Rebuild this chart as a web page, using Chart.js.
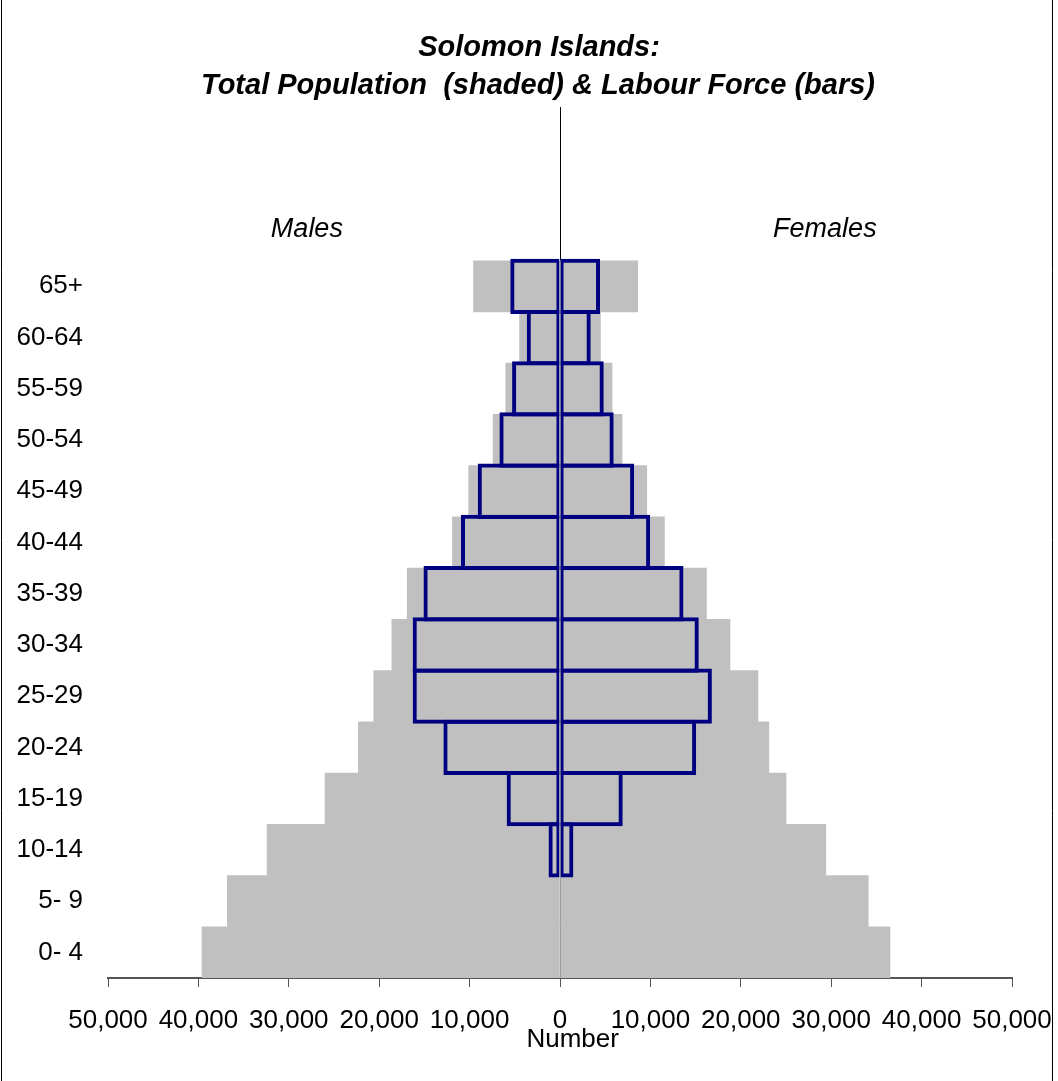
<!DOCTYPE html>
<html>
<head>
<meta charset="utf-8">
<script src="https://cdn.jsdelivr.net/npm/chart.js@4.4.1/dist/chart.umd.min.js"></script>
<style>
  html, body { margin: 0; padding: 0; background: #fff; }
  canvas { display: block; }
</style>
</head>
<body>
<canvas id="pyramid" width="1058" height="1081"></canvas>
<script>
// age groups, top to bottom
const ageGroups = ['65+', '60-64', '55-59', '50-54', '45-49', '40-44', '35-39',
                   '30-34', '25-29', '20-24', '15-19', '10-14', '5- 9', '0- 4'];
// three empty rows above the oldest group (room for Males / Females)
const yLabels = ['', '', ''].concat(ageGroups);

// total population (shaded)
const maleTotal   = [9570, 4470, 6000, 7400, 10100, 11900, 16900, 18600, 20600, 22300, 26000, 32400, 36800, 39600];
const femaleTotal = [8600, 4470, 5760, 6870, 9600, 11550, 16200, 18800, 21900, 23100, 25000, 29400, 34100, 36500];

// labour force (bars)
const maleLabour   = [5500, 3680, 5300, 6700, 9100, 10950, 15100, 16300, 16300, 12900, 5900, 1270, null, null];
const femaleLabour = [4430, 3400, 4840, 5940, 8200, 9970, 13660, 15350, 16800, 15060, 6940, 1480, null, null];

const xTicks = [-50000, -40000, -30000, -20000, -10000, 0, 10000, 20000, 30000, 40000, 50000];

const titleLines = ['Solomon Islands:', 'Total Population  (shaded) & Labour Force (bars)'];

const FONT = "'Liberation Sans', Arial, sans-serif";
const GREY = '#c0c0c0';
const NAVY = '#000080';

// left-side values are drawn as negatives
const toLeft = arr => [null, null, null].concat(arr.map(v => v == null ? null : -v));
const toRight = arr => [null, null, null].concat(arr);

// free text of the original: title, sex captions, axis caption, frame lines
const captions = {
    id: 'captions',
    afterDraw(chart) {
        const { ctx, scales } = chart;
        const x = scales.x, y = scales.y;
        ctx.save();
        ctx.fillStyle = '#000';
        ctx.textAlign = 'center';
        ctx.textBaseline = 'middle';

        ctx.font = 'italic bold 29px ' + FONT;
        ctx.fillText(titleLines[0], 539, 48);
        ctx.fillText(titleLines[1], 538, 86);

        ctx.font = 'italic 27px ' + FONT;
        const rowY = y.getPixelForValue(2) - 6;
        ctx.fillText('Males', x.getPixelForValue(-28000), rowY);
        ctx.fillText('Females', x.getPixelForValue(29300), rowY);

        ctx.font = '26px ' + FONT;
        ctx.fillText('Number', x.getPixelForValue(1400), 1040);

        // frame edges
        ctx.strokeStyle = '#000';
        ctx.lineWidth = 1;
        ctx.beginPath();
        ctx.moveTo(1.5, 0); ctx.lineTo(1.5, chart.height);
        ctx.moveTo(1052.5, 0); ctx.lineTo(1052.5, chart.height);
        ctx.stroke();
        ctx.restore();
    }
};

new Chart(document.getElementById('pyramid'), {
    type: 'bar',
    data: {
        labels: yLabels,
        datasets: [
            {
                label: 'Male labour force',
                data: toLeft(maleLabour),
                backgroundColor: 'rgba(0,0,0,0)',
                borderColor: NAVY,
                borderWidth: { top: 4, bottom: 4, left: 4, right: 3 },
                borderSkipped: false,
                barPercentage: 1.08,
                order: 0
            },
            {
                label: 'Female labour force',
                data: toRight(femaleLabour),
                backgroundColor: 'rgba(0,0,0,0)',
                borderColor: NAVY,
                borderWidth: { top: 4, bottom: 4, left: 3, right: 4 },
                borderSkipped: false,
                barPercentage: 1.08,
                order: 0
            },
            {
                label: 'Male population',
                data: toLeft(maleTotal),
                backgroundColor: GREY,
                borderWidth: 0,
                order: 1
            },
            {
                label: 'Female population',
                data: toRight(femaleTotal),
                backgroundColor: GREY,
                borderWidth: 0,
                order: 1
            }
        ]
    },
    options: {
        indexAxis: 'y',
        responsive: false,
        animation: false,
        datasets: {
            bar: { grouped: false, categoryPercentage: 1.0, barPercentage: 1.0 }
        },
        layout: { padding: { left: 0, right: 46, top: 107, bottom: 0 } },
        plugins: {
            legend: { display: false },
            tooltip: { enabled: false },
            title: { display: false }
        },
        scales: {
            x: {
                min: -50000,
                max: 50000,
                z: 1,
                afterBuildTicks: scale => { scale.ticks = xTicks.map(v => ({ value: v })); },
                afterFit: scale => {
                    scale.height = 103;
                    scale.paddingLeft = 0;
                    scale.paddingRight = 0;
                },
                ticks: {
                    color: '#000',
                    padding: 18,
                    maxRotation: 0,
                    autoSkip: false,
                    font: { family: FONT, size: 26 },
                    callback: v => Math.abs(v).toLocaleString('en-US')
                },
                grid: {
                    color: c => (c.tick && c.tick.value === 0) ? '#000' : 'rgba(0,0,0,0)',
                    lineWidth: 1,
                    tickColor: '#555',
                    tickLength: 9
                },
                border: { display: true, color: '#555', width: 2 }
            },
            y: {
                afterFit: scale => { scale.width = 108; },
                grid: { display: false },
                border: { display: false },
                ticks: {
                    color: '#000',
                    padding: 17,
                    autoSkip: false,
                    font: { family: FONT, size: 26 }
                }
            }
        }
    },
    plugins: [captions]
});
</script>
</body>
</html>
